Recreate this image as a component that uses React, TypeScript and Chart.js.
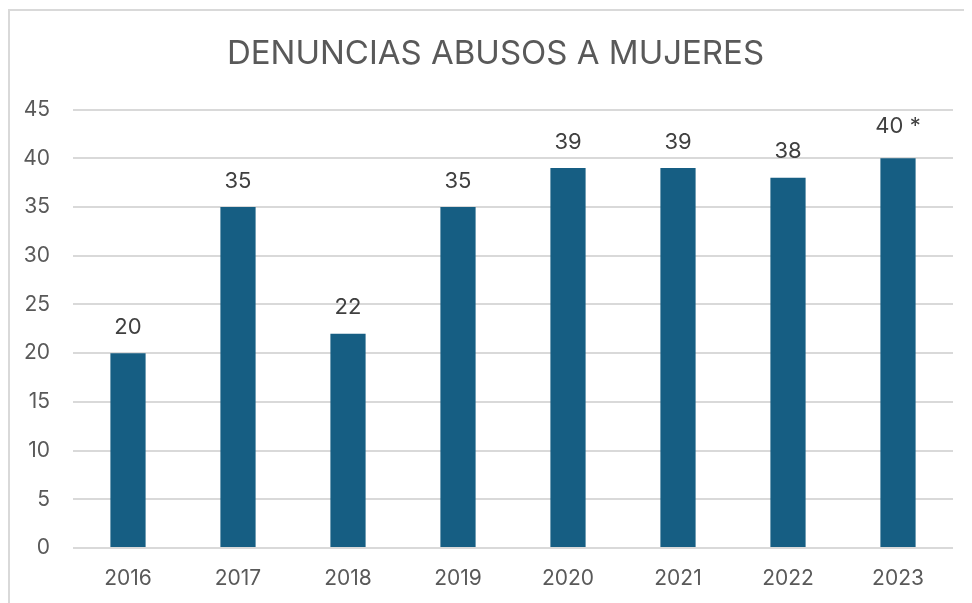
import React, { useEffect, useRef } from "react";
import { Chart, registerables } from "chart.js";

Chart.register(...registerables);

const TITLE = "DENUNCIAS ABUSOS A MUJERES";
const years = ["2016", "2017", "2018", "2019", "2020", "2021", "2022", "2023"];
const denuncias = [20, 35, 22, 35, 39, 39, 38, 40];
const valueLabels = ["20", "35", "22", "35", "39", "39", "38", "40 *"];
const yTicks = [0, 5, 10, 15, 20, 25, 30, 35, 40, 45];

const FONT = "Inter, 'Open Sans', sans-serif";

const labelPlugin = {
  id: "valueLabels",
  afterDatasetsDraw(chart: any) {
    const ctx = chart.ctx;
    const meta = chart.getDatasetMeta(0);
    ctx.save();
    ctx.font = `22px ${FONT}`;
    ctx.fillStyle = "#404040";
    ctx.textAlign = "center";
    ctx.textBaseline = "middle";
    meta.data.forEach((bar: any, i: number) => {
      const extra = i === meta.data.length - 1 ? 6 : 0;
      ctx.fillText(valueLabels[i], bar.x, bar.y - 26 - extra);
    });
    ctx.restore();
  },
};

export default function App() {
  const ref = useRef<HTMLCanvasElement>(null);
  useEffect(() => {
    if (!ref.current) return;
    const chart = new Chart(ref.current, {
      type: "bar",
      data: {
        labels: years,
        datasets: [
          {
            data: denuncias,
            backgroundColor: "#165E83",
            barPercentage: 0.64,
            categoryPercentage: 0.5,
          },
        ],
      },
      options: {
        animation: false,
        responsive: false,
        maintainAspectRatio: false,
        layout: { padding: 0 },
        plugins: {
          legend: { display: false },
          tooltip: { enabled: false },
          title: {
            display: true,
            text: TITLE,
            color: "#595959",
            font: { family: FONT, size: 33, weight: "normal" as any, lineHeight: 1.2 },
            padding: { top: 23, bottom: 36 },
          },
        },
        scales: {
          x: {
            grid: { display: false, drawTicks: false },
            border: { display: false },
            ticks: { color: "#595959", font: { family: FONT, size: 21 }, padding: 18 },
            afterFit(scale: any) {
              scale.height = 55;
            },
          },
          y: {
            min: 0,
            max: 45,
            afterBuildTicks(scale: any) {
              scale.ticks = yTicks.map((v) => ({ value: v }));
            },
            grid: { color: "#d9d9d9", lineWidth: 2, drawTicks: false },
            border: { display: false },
            ticks: { color: "#595959", font: { family: FONT, size: 21 }, padding: 23 },
            afterFit(scale: any) {
              scale.width = 63;
            },
          },
          yRight: {
            position: "right",
            min: 0,
            max: 45,
            grid: { display: false, drawTicks: false },
            border: { display: false },
            ticks: { display: false },
            afterFit(scale: any) {
              scale.width = 28;
            },
          },
        },
      },
      plugins: [labelPlugin],
    });
    return () => chart.destroy();
  }, []);

  return (
    <div
      style={{
        width: 964,
        height: 594,
        marginTop: 1,
        borderTop: "2px solid #d9d9d9",
        borderLeft: "2px solid #d9d9d9",
        boxSizing: "border-box",
        overflow: "hidden",
      }}
    >
      <canvas ref={ref} width={971} height={592} style={{ display: "block" }} />
    </div>
  );
}
